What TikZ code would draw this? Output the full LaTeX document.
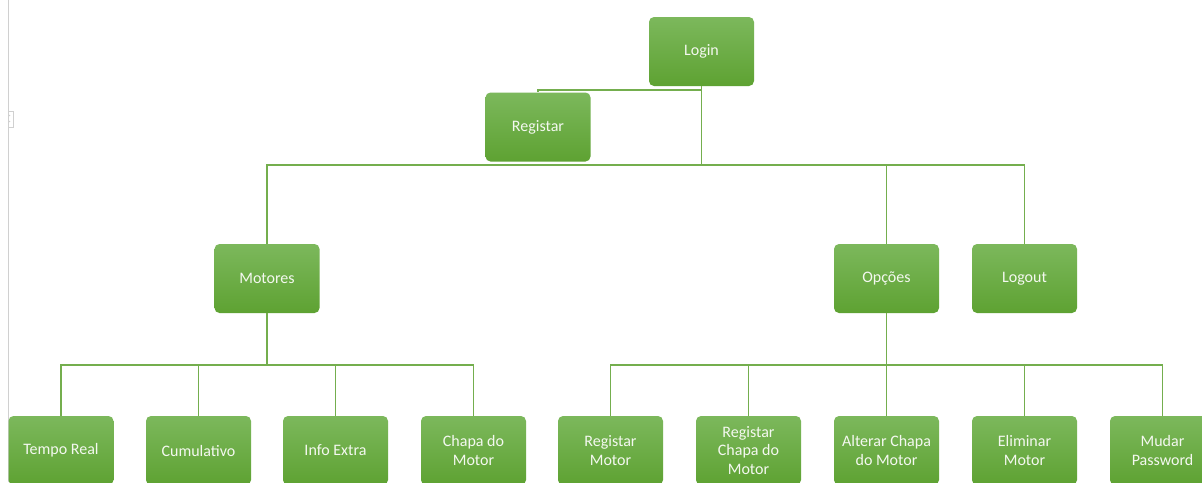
\documentclass[tikz,border=0pt]{standalone}
\usepackage{fontspec}
\setmainfont{Carlito}
\definecolor{boxtop}{RGB}{124,184,92}
\definecolor{boxbot}{RGB}{94,162,50}
\definecolor{linkgreen}{RGB}{116,174,78}
\definecolor{textwhite}{RGB}{244,248,240}
\definecolor{edgegray}{RGB}{208,208,208}
\tikzset{
  card/.style={rounded corners=5pt, minimum width=105pt, minimum height=69pt,
    top color=boxtop, bottom color=boxbot, draw=none,
    text=textwhite, align=center, font=\fontsize{16}{18.5}\selectfont,
    inner sep=0pt},
  link/.style={draw=linkgreen, line width=1.2pt},
}
\begin{document}
\begin{tikzpicture}[x=1pt,y=-1pt]
  \useasboundingbox (0,0) rectangle (1202,482);
  \fill[white] (0,0) rectangle (1202,482);

  % page edge on the left
  \draw[edgegray, line width=1pt] (8,0) -- (8,482);
  \draw[edgegray, line width=0.8pt] (8,111) -- (13,111) -- (13,127) -- (8,127);
  \fill[edgegray] (9.6,115.5) circle (0.8);
  \fill[edgegray] (9.6,121.5) circle (0.8);

  % bus heights
  \coordinate (busA) at (0,90);
  \coordinate (busB) at (0,165);
  \coordinate (busC) at (0,365);

  % top levels
  \node[card] (login) at (701.5,51.5) {Login};
  \node[card] (registar) at (538,127) {Registar};
  \node[card] (motores) at (267,278.5) {Motores};
  \node[card] (opcoes) at (886.5,278.5) {Opções};
  \node[card] (logout) at (1024.5,278.5) {Logout};

  % leaves
  \node[card] (tempo) at (61,450.5) {Tempo Real};
  \node[card] (cumul) at (198.5,450.5) {Cumulativo};
  \node[card] (info) at (335.5,450.5) {Info Extra};
  \node[card] (chapa) at (473.5,450.5) {Chapa do\\Motor};
  \node[card] (regmotor) at (610.5,450.5) {Registar\\Motor};
  \node[card] (regchapa) at (748.5,450.5) {Registar\\Chapa do\\Motor};
  \node[card] (altchapa) at (886.5,450.5) {Alterar Chapa\\do Motor};
  \node[card] (elim) at (1024.5,450.5) {Eliminar\\Motor};
  \node[card] (mudar) at (1162.5,450.5) {Mudar\\Password};

  % connectors
  \draw[link] (login.south) -- (login.south |- busA) -| (registar.north);
  \draw[link] (login.south) -- (login.south |- busB) -| (motores.north);
  \draw[link] (login.south |- busB) -| (opcoes.north);
  \draw[link] (login.south |- busB) -| (logout.north);

  \draw[link] (motores.south) -- (motores.south |- busC) -| (tempo.north);
  \draw[link] (motores.south |- busC) -| (cumul.north);
  \draw[link] (motores.south |- busC) -| (info.north);
  \draw[link] (motores.south |- busC) -| (chapa.north);

  \draw[link] (opcoes.south) -- (opcoes.south |- busC) -| (regmotor.north);
  \draw[link] (opcoes.south |- busC) -| (regchapa.north);
  \draw[link] (opcoes.south |- busC) -| (altchapa.north);
  \draw[link] (opcoes.south |- busC) -| (elim.north);
  \draw[link] (opcoes.south |- busC) -| (mudar.north);
\end{tikzpicture}
\end{document}
